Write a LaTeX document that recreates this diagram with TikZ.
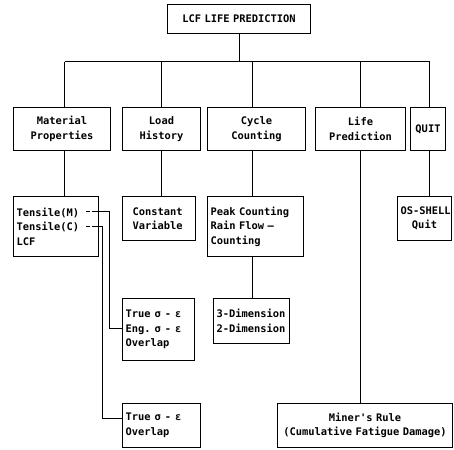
\documentclass[tikz,border=0pt]{standalone}
\usepackage{fontspec}
\setmonofont{DejaVu Sans Mono}
\usetikzlibrary{calc}
\tikzset{
  box/.style={draw, line width=1pt, inner xsep=3pt, inner ysep=0pt, anchor=north west,
    font=\ttfamily\bfseries\fontsize{10.4}{14.5}\selectfont},
  cbox/.style={box, align=center},
  lbox/.style={box, align=left},
  conn/.style={line width=1pt}
}
\newcommand{\sigeps}{\hspace{4pt}σ\hspace{4pt}-\hspace{4pt}ε}
\begin{document}
\begin{tikzpicture}[x=1pt,y=-1pt]
\useasboundingbox (0,0) rectangle (454,449);
% level 0
\node[cbox, text width=137, minimum height=29] (top) at (167,4) {LCF LIFE PREDICTION};
% level 1
\node[cbox, text width=91, minimum height=43] (mat) at (13,107) {Material\\Properties};
\node[cbox, text width=72, minimum height=43] (load) at (122,107) {Load\\History};
\node[cbox, text width=92, minimum height=43] (cyc) at (207,107) {Cycle\\Counting};
\node[cbox, text width=84, minimum height=43] (life) at (315,107) {Life\\Prediction};
\node[cbox, text width=29, minimum height=43] (quit) at (410,107) {QUIT};
% level 2
\node[lbox, text width=79, minimum height=60] (matsub) at (13,196) {Tensile(M)\\Tensile(C)\\LCF};
\node[lbox, text width=67, minimum height=44] (loadsub) at (122,196) {\hspace*{7pt}Constant\\\hspace*{7pt}Variable};
\node[lbox, text width=90, minimum height=60] (cycsub) at (207,196) {Peak Counting\\Rain Flow —\\Counting};
\node[cbox, text width=48, minimum height=44] (quitsub) at (397,196) {OS-SHELL\\Quit};
% level 3
\node[lbox, text width=66, minimum height=62] (teg) at (122,298) {True\sigeps\\Eng.\sigeps\\Overlap};
\node[lbox, text width=70, minimum height=45] (dim) at (213,298) {3-Dimension\\2-Dimension};
\node[lbox, text width=72, minimum height=44] (tobox) at (122,403) {True\sigeps\\Overlap};
\node[cbox, text width=169, minimum height=44] (miner) at (277,403) {Miner's Rule\\(Cumulative Fatigue Damage)};
% bus
\coordinate (bus) at (0,62);
\draw[conn] (top.south) -- (top.south |- bus);
\draw[conn] ($(mat.north |- bus)+(2.5,0)$) -- ($(quit.north |- bus)+(1.5,0)$);
\draw[conn] ($(mat.north)+(2.5,0)$) -- ($(mat.north |- bus)+(2.5,0)$);
\draw[conn] (load.north) -- (load.north |- bus);
\draw[conn] ($(cyc.north)+(-4,0)$) -- ($(cyc.north |- bus)+(-4,0)$);
\draw[conn] (life.north) -- (life.north |- bus);
\draw[conn] ($(quit.north)+(1.5,0)$) -- ($(quit.north |- bus)+(1.5,0)$);
% down
\draw[conn] ($(mat.south)+(2.5,0)$) -- ($(mat.south |- matsub.north)+(2.5,0)$);
\draw[conn] (load.south) -- (load.south |- loadsub.north);
\draw[conn] ($(cyc.south)+(-4,0)$) -- ($(cyc.south |- cycsub.north)+(-4,0)$);
\draw[conn] ($(quit.south)+(1.5,0)$) -- ($(quit.south |- quitsub.north)+(1.5,0)$);
\draw[conn] ($(cycsub.south)+(-3,0)$) -- ($(cycsub.south |- dim.north)+(-3,0)$);
\draw[conn] (life.south) -- (life.south |- miner.north);
% tensile connectors
\coordinate (tmS) at (86,211);
\coordinate (tmD) at (96,211);
\coordinate (tcS) at (86,226);
\coordinate (tcD) at (96,226);
\draw[conn, dash pattern=on 4pt off 2pt] (tmS) -- (tmD);
\draw[conn, dash pattern=on 4pt off 2pt] (tcS) -- (tcD);
\draw[conn] (tmD) -| ($(teg.west)+(-13,-1)$) -- ($(teg.west)+(0,-1)$);
\draw[conn] (tcD) -| ($(tobox.west)+(-20,-7)$) -- ($(tobox.west)+(0,-7)$);
\end{tikzpicture}
\end{document}
